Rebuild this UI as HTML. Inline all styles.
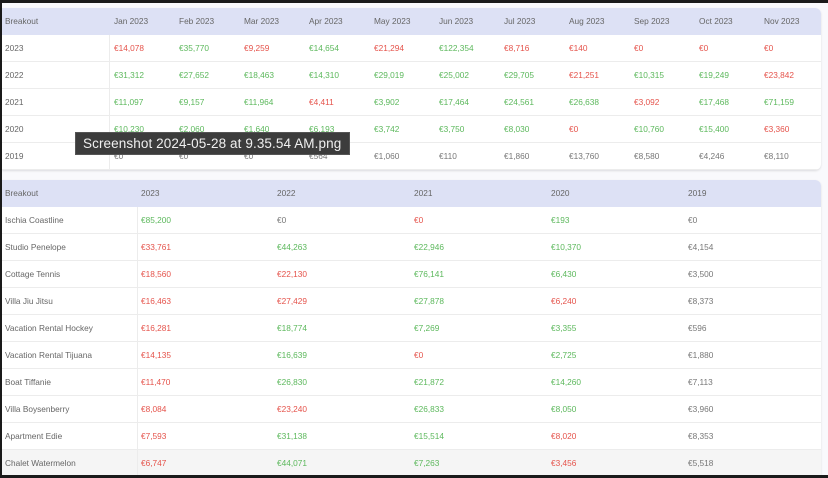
<!DOCTYPE html>
<html><head><style>
*{margin:0;padding:0;box-sizing:border-box}
body{width:828px;height:478px;background:#1a1a1a;overflow:hidden;font-family:"Liberation Sans",sans-serif;font-size:8.3px;color:#666;position:relative}
.pg{position:absolute;left:2px;top:3px;width:826px;height:472px;background:#f9f9fc;overflow:hidden}
.card{position:absolute;left:0;width:819px;background:#fff;border-radius:0 6px 6px 0;box-shadow:0 1px 2px rgba(0,0,0,.12);overflow:hidden}
.r{position:absolute;left:0;width:100%;height:27px;border-bottom:1px solid #ececec}
.h{background:#dde1f5;border-bottom:none;color:#666}
.c{position:absolute;top:0;line-height:27px;white-space:nowrap}
.g{color:#5cb85c}.d{color:#e5534b}.n{color:#777}
.sep{position:absolute;top:27px;bottom:0;width:1px;background:#ececec}
.tip{position:absolute;left:75px;top:132px;width:275px;height:23px;background:#3c3c3c;border:1px solid #555;color:#f0f0f0;font-size:13.5px;line-height:22px;padding-left:7px;letter-spacing:0.1px}
</style></head><body>
<div class="pg">
<div class="card" style="top:5px;height:162px" id="t1"></div>
<div class="card" style="top:177px;height:300px;border-radius:0 6px 0 0" id="t2"></div>
</div>
<div class="tip">Screenshot 2024-05-28 at 9.35.54 AM.png</div>
<script>
function build(id,heads,xs,rows,sepx,last){
 var el=document.getElementById(id),h='<div class="r h" style="top:0">';
 heads.forEach(function(t,i){h+='<div class="c" style="left:'+xs[i]+'px">'+t+'</div>'});
 h+='</div>';
 rows.forEach(function(r,j){
  var bg=(last&&j==rows.length-1)?'background:#f5f5f5;':'';
  h+='<div class="r" style="top:'+(27+27*j)+'px;'+bg+'">';
  r.forEach(function(t,i){var cl='';if(i>0){cl=t[0]=='g'?'g':t[0]=='d'?'d':'n';t=t.slice(1)}
   h+='<div class="c '+cl+'" style="left:'+xs[i]+'px">'+(i>0?'€':'')+t+'</div>'});
  h+='</div>';
 });
 h+='<div class="sep" style="left:'+sepx+'px"></div>';
 el.innerHTML=h;
}
var x1=[3];for(var i=0;i<11;i++)x1.push(112+65*i);
build('t1',['Breakout','Jan 2023','Feb 2023','Mar 2023','Apr 2023','May 2023','Jun 2023','Jul 2023','Aug 2023','Sep 2023','Oct 2023','Nov 2023'],x1,[
['2023','d14,078','g35,770','d9,259','g14,654','d21,294','g122,354','d8,716','d140','d0','d0','d0'],
['2022','g31,312','g27,652','g18,463','g14,310','g29,019','g25,002','g29,705','d21,251','g10,315','g19,249','d23,842'],
['2021','g11,097','g9,157','g11,964','d4,411','g3,902','g17,464','g24,561','g26,638','d3,092','g17,468','g71,159'],
['2020','g10,230','g2,060','g1,640','g6,193','g3,742','g3,750','g8,030','d0','g10,760','g15,400','d3,360'],
['2019','n0','n0','n0','n564','n1,060','n110','n1,860','n13,760','n8,580','n4,246','n8,110']],107,false);
build('t2',['Breakout','2023','2022','2021','2020','2019'],[3,139,275,412,549,686],[
['Ischia Coastline','g85,200','n0','d0','g193','n0'],
['Studio Penelope','d33,761','g44,263','g22,946','g10,370','n4,154'],
['Cottage Tennis','d18,560','d22,130','g76,141','g6,430','n3,500'],
['Villa Jiu Jitsu','d16,463','d27,429','g27,878','d6,240','n8,373'],
['Vacation Rental Hockey','d16,281','g18,774','g7,269','g3,355','n596'],
['Vacation Rental Tijuana','d14,135','g16,639','d0','g2,725','n1,880'],
['Boat Tiffanie','d11,470','g26,830','g21,872','g14,260','n7,113'],
['Villa Boysenberry','d8,084','d23,240','g26,833','g8,050','n3,960'],
['Apartment Edie','d7,593','g31,138','g15,514','d8,020','n8,353'],
['Chalet Watermelon','d6,747','g44,071','g7,263','d3,456','n5,518']],135,true);
</script>
</body></html>
